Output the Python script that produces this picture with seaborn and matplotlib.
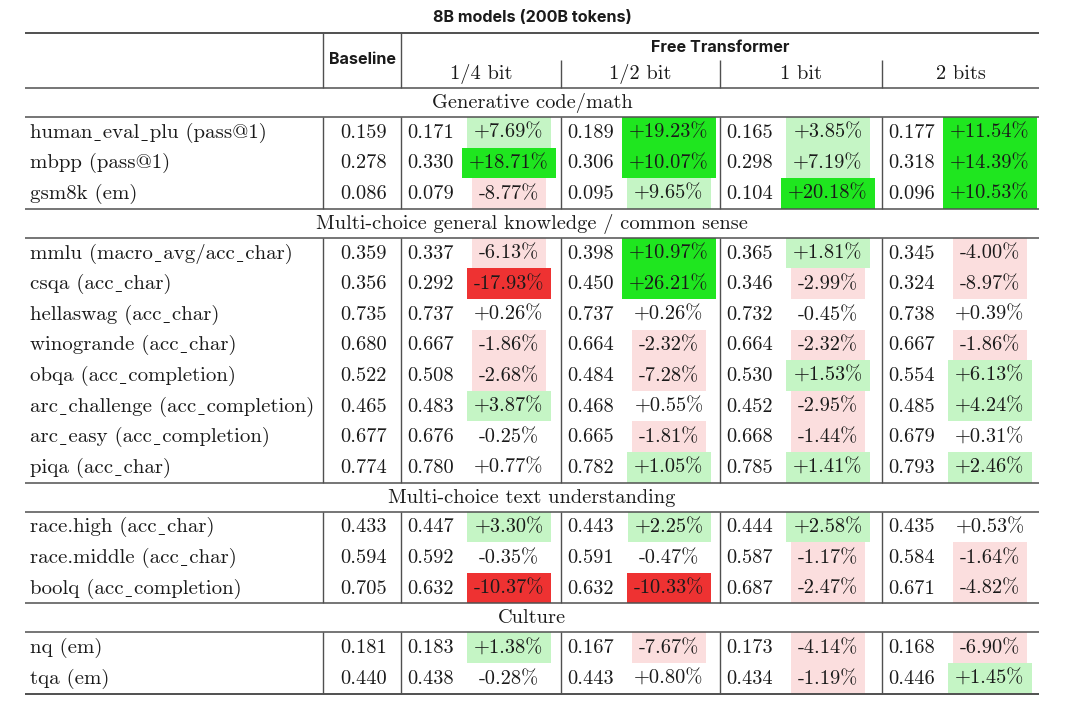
import matplotlib
matplotlib.use("Agg")
import matplotlib.pyplot as plt
from matplotlib.patches import Rectangle
import seaborn as sns

# table content
title = "8B models (200B tokens)"
bit_labels = ["1/4 bit", "1/2 bit", "1 bit", "2 bits"]

sections = [
    "Generative code/math",
    "Multi-choice general knowledge / common sense",
    "Multi-choice text understanding",
    "Culture",
]
section_sizes = [3, 8, 3, 2]

tasks = [
    "human_eval_plu (pass@1)", "mbpp (pass@1)", "gsm8k (em)",
    "mmlu (macro_avg/acc_char)", "csqa (acc_char)", "hellaswag (acc_char)",
    "winogrande (acc_char)", "obqa (acc_completion)",
    "arc_challenge (acc_completion)", "arc_easy (acc_completion)", "piqa (acc_char)",
    "race.high (acc_char)", "race.middle (acc_char)", "boolq (acc_completion)",
    "nq (em)", "tqa (em)",
]
baseline = [0.159, 0.278, 0.086, 0.359, 0.356, 0.735, 0.680, 0.522,
            0.465, 0.677, 0.774, 0.433, 0.594, 0.705, 0.181, 0.440]

# Free Transformer scores, one list per bit setting
ft_quarter = [0.171, 0.330, 0.079, 0.337, 0.292, 0.737, 0.667, 0.508,
              0.483, 0.676, 0.780, 0.447, 0.592, 0.632, 0.183, 0.438]
ft_half = [0.189, 0.306, 0.095, 0.398, 0.450, 0.737, 0.664, 0.484,
           0.468, 0.665, 0.782, 0.443, 0.591, 0.632, 0.167, 0.443]
ft_one = [0.165, 0.298, 0.104, 0.365, 0.346, 0.732, 0.664, 0.530,
          0.452, 0.668, 0.785, 0.444, 0.587, 0.687, 0.173, 0.434]
ft_two = [0.177, 0.318, 0.096, 0.345, 0.324, 0.738, 0.667, 0.554,
          0.485, 0.679, 0.793, 0.435, 0.584, 0.671, 0.168, 0.446]

# relative change vs baseline (%), as printed in the table
pct_quarter = [7.69, 18.71, -8.77, -6.13, -17.93, 0.26, -1.86, -2.68,
               3.87, -0.25, 0.77, 3.30, -0.35, -10.37, 1.38, -0.28]
pct_half = [19.23, 10.07, 9.65, 10.97, 26.21, 0.26, -2.32, -7.28,
            0.55, -1.81, 1.05, 2.25, -0.47, -10.33, -7.67, 0.80]
pct_one = [3.85, 7.19, 20.18, 1.81, -2.99, -0.45, -2.32, 1.53,
           -2.95, -1.44, 1.41, 2.58, -1.17, -2.47, -4.14, -1.19]
pct_two = [11.54, 14.39, 10.53, -4.00, -8.97, 0.39, -1.86, 6.13,
           4.24, 0.31, 2.46, 0.53, -1.64, -4.82, -6.90, 1.45]

ft_scores = [ft_quarter, ft_half, ft_one, ft_two]
ft_pcts = [pct_quarter, pct_half, pct_one, pct_two]

sns.set_theme(style="white")
serif = ["cmr10", "DejaVu Serif", "DejaVu Sans"]
sans = ["Inter", "DejaVu Sans"]
plt.rcParams["font.family"] = serif
plt.rcParams["axes.unicode_minus"] = False

fig = plt.figure(figsize=(10.8, 7.02), dpi=100)
ax = fig.add_axes([0, 0, 1, 1])
ax.set_xlim(0, 1080)
ax.set_ylim(702, 0)
ax.axis("off")

# layout (pixels)
x_left, x_right = 25, 1039
vlines = [323, 401, 561, 720, 882]
col_edges = vlines[2:] + [x_right]
top_rule, head_rule = 33, 88
sec_h, row_h = 29, 30.6
fs = 14.7
fs_label = 15.0
ink = "#1a1a1a"
rule_c = "#505050"

strong_green, light_green = "#1fe61f", "#c5f5c5"
strong_red, light_red = "#ee3232", "#fbdede"


def cell_color(p):
    if p >= 10:
        return strong_green
    if p > 1:
        return light_green
    if p <= -10:
        return strong_red
    if p < -1:
        return light_red
    return None


def hline(y, lw=1.1):
    ax.plot([x_left, x_right], [y, y], color=rule_c, lw=lw, solid_capstyle="butt")


def vline(x, y0, y1):
    ax.plot([x, x], [y0, y1], color=rule_c, lw=1.0, solid_capstyle="butt")


# cmr10 maps "_" to a dot accent, so use a low macron from the fallback font
def tex_label(s):
    return s.replace("_", "\u02cd")


# header
ax.text((x_left + x_right) / 2, 17, title, family=sans, weight="bold",
        fontsize=11.6, ha="center", va="center", color=ink)
hline(top_rule, 1.4)
ax.text((vlines[0] + vlines[1]) / 2, 60, "Baseline", family=sans, weight="bold",
        fontsize=11.6, ha="center", va="center", color=ink)
ax.text((vlines[1] + x_right) / 2, 47, "Free Transformer", family=sans,
        weight="bold", fontsize=11.6, ha="center", va="center", color=ink)
for i, lab in enumerate(bit_labels):
    ax.text((vlines[i + 1] + col_edges[i]) / 2, 74, lab, fontsize=fs,
            ha="center", va="center", color=ink)
vline(vlines[0], top_rule, head_rule)
vline(vlines[1], top_rule, head_rule)
for x in vlines[2:]:
    vline(x, 60, head_rule)
hline(head_rule)

fig.canvas.draw()
renderer = fig.canvas.get_renderer()

y = head_rule
row = 0
for name, n in zip(sections, section_sizes):
    ax.text((x_left + x_right) / 2, y + sec_h / 2 + 0.5, name, fontsize=fs,
            ha="center", va="center", color=ink)
    y += sec_h
    hline(y)
    block_top = y
    for _ in range(n):
        yc = y + row_h / 2 + 0.5
        ax.text(30, yc, tex_label(tasks[row]), fontsize=fs_label, ha="left",
                va="center", color=ink)
        ax.text(vlines[1] - 14, yc, f"{baseline[row]:.3f}", fontsize=fs,
                ha="right", va="center", color=ink)
        for c in range(4):
            x0 = vlines[c + 1]
            ax.text(x0 + 6, yc, f"{ft_scores[c][row]:.3f}", fontsize=fs,
                    ha="left", va="center", color=ink)
            p = ft_pcts[c][row]
            t = ax.text(x0 + 108, yc, f"{p:+.2f}%", fontsize=fs,
                        ha="center", va="center", color=ink, zorder=3)
            col = cell_color(p)
            if col:
                w = t.get_window_extent(renderer).width + 14
                ax.add_patch(Rectangle((x0 + 108 - w / 2, y), w, row_h,
                                       facecolor=col, edgecolor="none", zorder=1))
        y += row_h
        row += 1
    for x in vlines:
        vline(x, block_top, y)
    hline(y, 1.4 if name == sections[-1] else 1.1)

fig.savefig("out.png", dpi=100)
